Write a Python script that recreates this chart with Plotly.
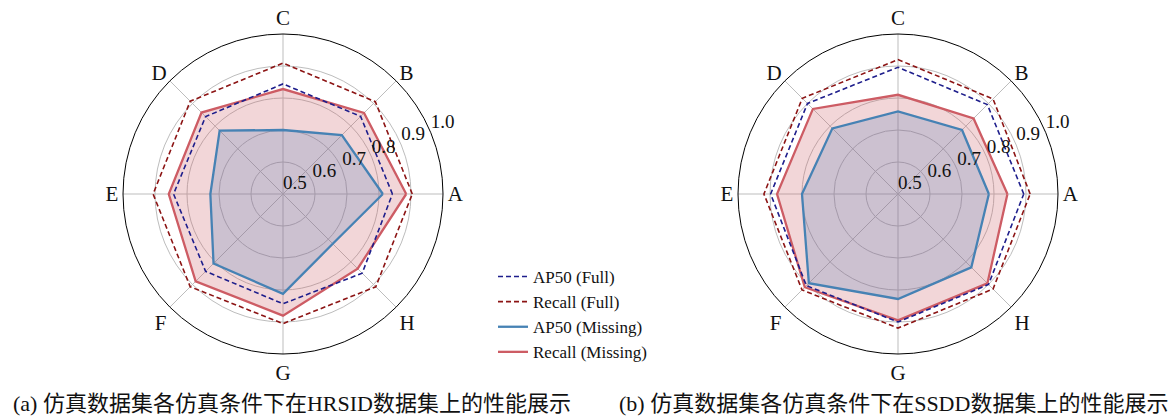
import plotly.graph_objects as go

categories = ["A", "B", "C", "D", "E", "F", "G", "H"]

hrsid_ap50_full = [0.842, 0.843, 0.844, 0.842, 0.842, 0.842, 0.843, 0.850]
hrsid_recall_full = [0.904, 0.908, 0.909, 0.910, 0.906, 0.910, 0.905, 0.910]
hrsid_ap50_missing = [0.812, 0.760, 0.700, 0.780, 0.727, 0.807, 0.812, 0.720]
hrsid_recall_missing = [0.885, 0.858, 0.828, 0.860, 0.857, 0.886, 0.880, 0.830]

ssdd_ap50_full = [0.893, 0.895, 0.896, 0.900, 0.898, 0.905, 0.900, 0.900]
ssdd_recall_full = [0.913, 0.920, 0.920, 0.923, 0.919, 0.924, 0.919, 0.920]
ssdd_ap50_missing = [0.784, 0.783, 0.758, 0.790, 0.800, 0.894, 0.828, 0.824]
ssdd_recall_missing = [0.842, 0.834, 0.810, 0.876, 0.878, 0.912, 0.895, 0.895]

radial_ticks = [0.5, 0.6, 0.7, 0.8, 0.9, 1.0]
radial_ticktext = ["0.5", "0.6", "0.7", "0.8", "0.9", "1.0"]

captions = ["(a) 仿真数据集各仿真条件下在HRSID数据集上的性能展示",
            "(b) 仿真数据集各仿真条件下在SSDD数据集上的性能展示"]

SERIF = "Liberation Serif, DejaVu Serif, serif"
C_AP_FULL = "#1e1e8c"
C_RE_FULL = "#8c1414"
C_AP_MISS = "#4682b4"
C_RE_MISS = "#cd5c64"
DASH = "5px,3px"

n = len(categories)
angles = [i * 360 / n for i in range(n)]


def closed(v):
    return list(v) + [v[0]]


theta = closed(angles)

fig = go.Figure()

datasets = [
    ("polar", hrsid_ap50_full, hrsid_recall_full, hrsid_ap50_missing, hrsid_recall_missing),
    ("polar2", ssdd_ap50_full, ssdd_recall_full, ssdd_ap50_missing, ssdd_recall_missing),
]

for sub, apf, ref, apm, rem in datasets:
    fig.add_trace(go.Scatterpolar(
        r=closed(rem), theta=theta, subplot=sub, mode="lines",
        name="Recall (Missing)", showlegend=False,
        line=dict(color=C_RE_MISS, width=2.3),
        fill="toself", fillcolor="rgba(205,92,100,0.25)"))
    fig.add_trace(go.Scatterpolar(
        r=closed(apm), theta=theta, subplot=sub, mode="lines",
        name="AP50 (Missing)", showlegend=False,
        line=dict(color=C_AP_MISS, width=2.3),
        fill="toself", fillcolor="rgba(70,120,180,0.22)"))
    fig.add_trace(go.Scatterpolar(
        r=closed(apf), theta=theta, subplot=sub, mode="lines",
        name="AP50 (Full)", showlegend=False,
        line=dict(color=C_AP_FULL, width=1.6, dash=DASH)))
    fig.add_trace(go.Scatterpolar(
        r=closed(ref), theta=theta, subplot=sub, mode="lines",
        name="Recall (Full)", showlegend=False,
        line=dict(color=C_RE_FULL, width=1.6, dash=DASH)))
    # radial tick labels, anchored south-west of the tick position (as in the reference)
    fig.add_trace(go.Scatterpolar(
        r=radial_ticks, theta=[22.5] * len(radial_ticks), subplot=sub,
        mode="text", text=radial_ticktext, textposition="top right",
        marker=dict(size=0),
        textfont=dict(family=SERIF, size=19, color="#111"),
        showlegend=False, hoverinfo="skip"))

# legend-only entries (line samples without fill swatches)
legend_entries = [
    ("AP50 (Full)", C_AP_FULL, 1.6, DASH),
    ("Recall (Full)", C_RE_FULL, 1.6, DASH),
    ("AP50 (Missing)", C_AP_MISS, 2.3, "solid"),
    ("Recall (Missing)", C_RE_MISS, 2.3, "solid"),
]
for name, col, w, d in legend_entries:
    fig.add_trace(go.Scatterpolar(
        r=[None], theta=[None], subplot="polar", mode="lines", name=name,
        line=dict(color=col, width=w, dash=d), showlegend=True))

polar_common = dict(
    bgcolor="rgba(0,0,0,0)",
    radialaxis=dict(
        range=[0.5, 1.0], tickvals=radial_ticks, showticklabels=False,
        angle=22.5, showline=False, ticks="", gridcolor="#bdbdbd", gridwidth=1,
    ),
    angularaxis=dict(
        tickmode="array", tickvals=angles, ticktext=categories,
        thetaunit="degrees", rotation=0, direction="counterclockwise",
        showline=True, linecolor="black", linewidth=1,
        gridcolor="#bdbdbd", gridwidth=1, ticks="",
        tickfont=dict(family=SERIF, size=21, color="#111"),
    ),
)

fig.update_layout(
    width=1174, height=418,
    margin=dict(l=0, r=0, t=0, b=0),
    paper_bgcolor="white", plot_bgcolor="white",
    polar=dict(domain=dict(x=[123/1174, 443/1174], y=[1-354/418, 1-34/418]), **polar_common),
    polar2=dict(domain=dict(x=[738/1174, 1058/1174], y=[1-354/418, 1-34/418]), **polar_common),
    legend=dict(
        x=493/1174, y=1-259/418, xanchor="left", yanchor="top",
        bgcolor="rgba(0,0,0,0)", font=dict(family=SERIF, size=17, color="#111"),
        tracegroupgap=0, itemwidth=30,
    ),
    showlegend=True,
)

for cx, text in zip([292, 893], captions):
    fig.add_annotation(
        x=cx/1174, y=1-403/418, xref="paper", yref="paper",
        text=text, showarrow=False, xanchor="center", yanchor="middle",
        font=dict(family="Liberation Serif, Noto Sans CJK SC, serif", size=22, color="#111"))

fig.write_html(
    "out.html",
    config={"displayModeBar": False},
    post_script="document.body.style.margin='0';document.body.style.overflow='hidden';",
)
